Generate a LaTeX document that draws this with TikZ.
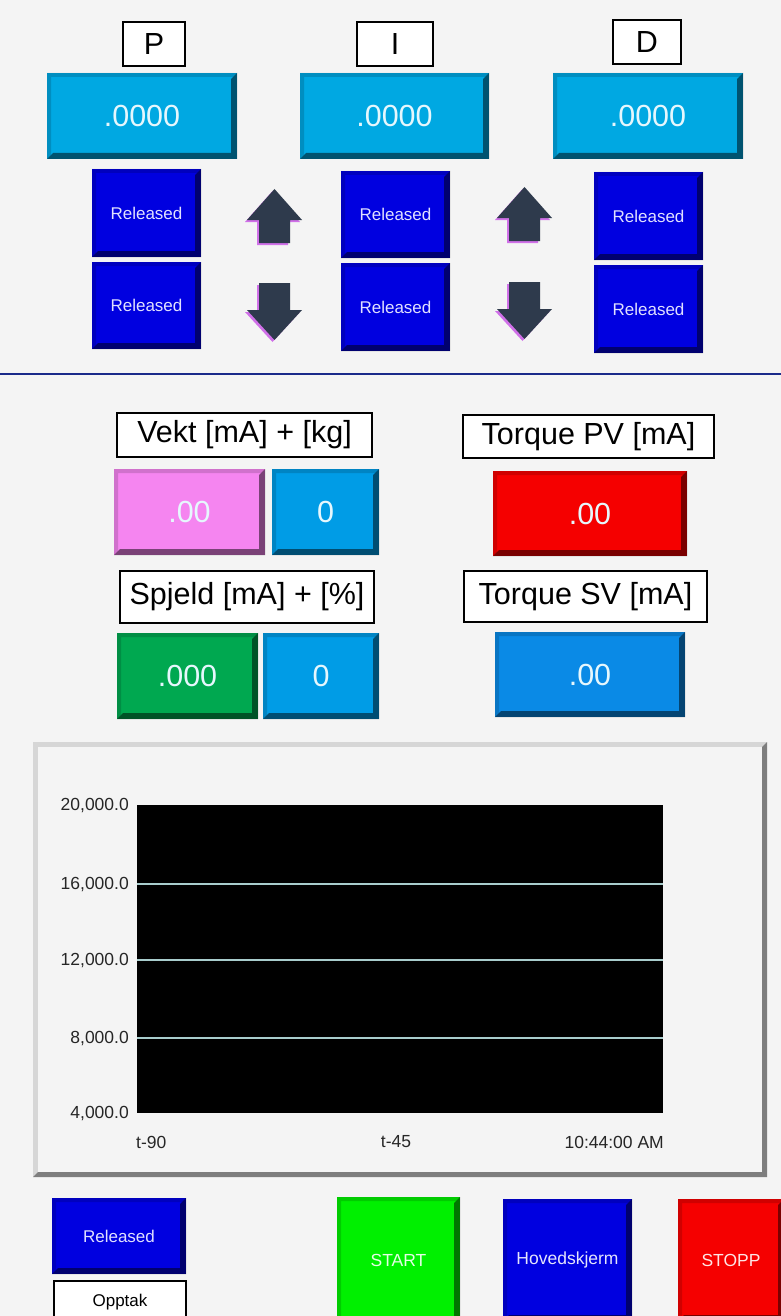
\documentclass[tikz,border=0pt]{standalone}
\usepackage{fontspec}
\setmainfont{Liberation Sans}
\usetikzlibrary{calc}

\definecolor{screenbg}{HTML}{F4F4F4}
\definecolor{valcyan}{HTML}{00A8E2}
\definecolor{relblue}{HTML}{0000E0}
\definecolor{vektpink}{HTML}{F585F0}
\definecolor{numblue}{HTML}{009CE6}
\definecolor{spjgreen}{HTML}{00A850}
\definecolor{tpvred}{HTML}{F50000}
\definecolor{tsvblue}{HTML}{0A8AE6}
\definecolor{startgreen}{HTML}{00F000}
\definecolor{arrowfill}{HTML}{2E3A4C}
\definecolor{arrowedge}{HTML}{D070E8}
\definecolor{sepline}{HTML}{1A2A8A}
\definecolor{gridline}{HTML}{A8CCCC}
\definecolor{framelight}{HTML}{D6D6D6}
\definecolor{framedark}{HTML}{7E7E7E}

\tikzset{
  hmi/.style={rectangle, inner sep=0pt, outer sep=0pt},
  wh/.style 2 args={minimum width=#1pt, minimum height=#2pt},
  bevel/.style={path picture={
      \coordinate (bsw) at (path picture bounding box.south west);
      \coordinate (bne) at (path picture bounding box.north east);
      % top and left edge
      \fill[black, opacity=0.15] (bsw) |- (bne) -- ++(-4pt,-4pt) -| ($(bsw)+(4pt,4pt)$) -- cycle;
      % bottom and right edge
      \fill[black, opacity=0.5] (bsw) -| (bne) -- ++(-6pt,-6pt) |- ($(bsw)+(6pt,6pt)$) -- cycle;
  }},
  labelbox/.style={hmi, draw=black, line width=1.2pt, fill=white, font=\fontsize{30.5}{30.5}\selectfont},
  valuebox/.style={hmi, fill=#1, bevel, text=white!90!cyan, font=\fontsize{30.5}{30.5}\selectfont},
  relbtn/.style={hmi, fill=relblue, bevel, text=white!88!blue, font=\fontsize{17}{17}\selectfont},
  navbtn/.style={hmi, fill=#1, bevel, text=white!90!#1, font=\fontsize{17.5}{17.5}\selectfont},
  axislab/.style={inner sep=0pt, text=black!85, font=\fontsize{17.5}{17.5}\selectfont},
  uparrow/.pic={
    \foreach \dx/\dy/\c in {-2/2/arrowedge, 0/0/arrowfill}
      \fill[\c, shift={(\dx,\dy)}] (0,0) -- (27.5,31) -- (15.5,31) -- (15.5,54) -- (-15.5,54) -- (-15.5,31) -- (-27.5,31) -- cycle;
  },
  downarrow/.pic={
    \foreach \dx/\dy/\c in {-2/2/arrowedge, 0/0/arrowfill}
      \fill[\c, shift={(\dx,\dy)}] (-15.5,0) -- (15.5,0) -- (15.5,27) -- (27.5,27) -- (0,57) -- (-27.5,27) -- (-15.5,27) -- cycle;
  },
}

\begin{document}
\begin{tikzpicture}[x=1pt, y=-1pt]
    % screen
    \fill[screenbg] (0,0) rectangle (781,1316);
    \useasboundingbox (0,0) rectangle (781,1316);
    \clip (0,0) rectangle (781,1316);

    % PID parameters
    \node[labelbox, wh={62}{44}] (labP) at (154,44) {P};
    \node[labelbox, wh={76}{44}] (labI) at (395,44) {I};
    \node[labelbox, wh={68}{44}] (labD) at (647,42) {D};

    \node[valuebox=valcyan, wh={190}{86}] (valP) at (142,116) {.0000};
    \node[valuebox=valcyan, wh={189}{86}] (valI) at (394.5,116) {.0000};
    \node[valuebox=valcyan, wh={190}{86}] (valD) at (648,116) {.0000};

    % up/down buttons
    \node[relbtn, wh={109}{88}] (relPup) at (146.5,213) {Released};
    \node[relbtn, wh={109}{87}] (relPdn) at (146.5,305.5) {Released};
    \node[relbtn, wh={109}{87}] (relIup) at (395.5,214.5) {Released};
    \node[relbtn, wh={109}{88}] (relIdn) at (395.5,307) {Released};
    \node[relbtn, wh={109}{88}] (relDup) at (648.5,216) {Released};
    \node[relbtn, wh={109}{88}] (relDdn) at (648.5,309) {Released};

    \pic at (274.5,189) {uparrow};
    \pic at (274.5,283) {downarrow};
    \pic at (524.5,187) {uparrow};
    \pic at (524.5,282) {downarrow};

    \draw[sepline, line width=2pt] (0,374) -- (781,374);

    % measurements
    \node[labelbox, wh={255}{44}] (labVekt) at (244.5,435) {Vekt [mA] + [kg]};
    \node[valuebox=vektpink, wh={151}{86}] (vektmA) at (189.5,512) {.00};
    \node[valuebox=numblue, wh={107}{86}] (vektkg) at (325.5,512) {0};

    \node[labelbox, wh={254}{52}] (labSpjeld) at (247,597) {Spjeld [mA] + [\%]};
    \node[valuebox=spjgreen, wh={141}{86}] (spjmA) at (187.5,676) {.000};
    \node[valuebox=numblue, wh={116}{86}] (spjpct) at (321,676) {0};

    \node[labelbox, wh={251}{43}] (labTPV) at (588.5,436.5) {Torque PV [mA]};
    \node[valuebox=tpvred, wh={194}{85}] (tpv) at (590,513.5) {.00};

    \node[labelbox, wh={243}{51}] (labTSV) at (585.5,596.5) {Torque SV [mA]};
    \node[valuebox=tsvblue, wh={190}{85}] (tsv) at (590,674.5) {.00};

    % trend frame
    \fill[framelight] (33,742) rectangle (767,1177);
    \fill[framedark] (33,1177) -| (767,742) -- ++(-5pt,-5pt) |- ($(33,1177)+(5pt,5pt)$) -- cycle;
    \fill[screenbg] (38,747) rectangle (762,1172);

    \node[hmi, fill=black, wh={526}{308}] (plot) at (400,959) {};
    \foreach \gy in {884,960,1038}
        \draw[gridline, line width=1.5pt] (137,\gy) -- (663,\gy);

    \foreach \gy/\v in {805/{20,000.0}, 884/{16,000.0}, 960/{12,000.0}, 1038/{8,000.0}, 1113/{4,000.0}}
        \node[axislab, anchor=east] (ylab\gy) at (129,\gy) {\v};

    \node[axislab, anchor=west] (xlabA) at (136,1142) {t-90};
    \node[axislab] (xlabB) at (396,1142) {t-45};
    \node[axislab, anchor=east] (xlabC) at (664,1142) {10:44:00 AM};

    % bottom buttons
    \node[relbtn, wh={134}{76}] (relRec) at (119,1236) {Released};
    \node[hmi, draw=black, line width=1.2pt, fill=white, wh={132}{42},
          font=\fontsize{17}{17}\selectfont] (opptak) at (120,1302) {Opptak};
    \node[navbtn=startgreen, wh={123}{126}] (start) at (398.5,1260) {START};
    \node[navbtn=relblue, wh={129}{122}] (hoved) at (567.5,1260) {Hovedskjerm};
    \node[navbtn=tpvred, wh={106}{122}] (stopp) at (731,1260) {STOPP};
\end{tikzpicture}
\end{document}
